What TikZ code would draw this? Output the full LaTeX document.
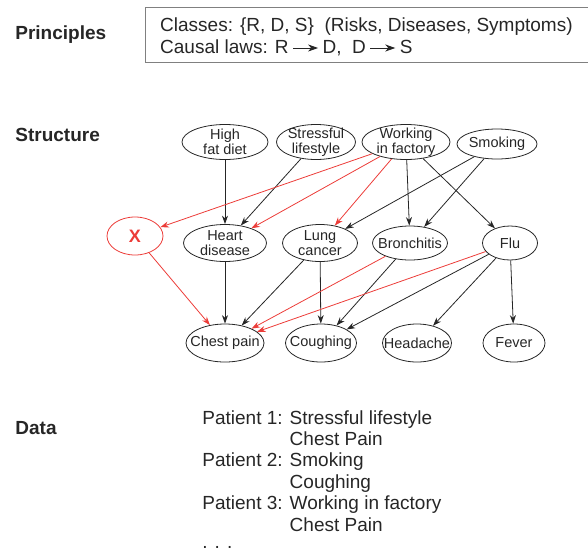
\documentclass[tikz,border=0pt]{standalone}
\usepackage{fontspec}
\setmainfont{Liberation Sans}
\usetikzlibrary{arrows.meta,shapes.geometric}
\definecolor{ink}{RGB}{38,38,38}
\definecolor{linkred}{RGB}{236,60,56}
\newcommand{\lawarrow}{\hspace{4pt}\tikz[baseline=-5pt]\draw[-{Stealth[length=10pt,width=7pt,inset=3pt]},line width=0.9pt] (0,0) -- (25pt,0);\hspace{4pt}}

\begin{document}
\begin{tikzpicture}[x=1pt,y=-1pt,line width=0.8pt,>={Stealth[length=8.5pt,width=6pt]}]
\tikzstyle{every node}=[text=ink]
\tikzstyle{var}=[ellipse, draw=ink, inner xsep=-12pt, inner ysep=-6pt, minimum height=35pt, align=center, font=\fontsize{14.5}{15}\selectfont]
\tikzstyle{head}=[anchor=base west, inner sep=0pt, font=\fontsize{19}{22}\selectfont\bfseries]
\tikzstyle{plain}=[anchor=base west, inner sep=0pt]
\useasboundingbox (0,0) rectangle (588,552);
\draw (15,39) node (principles) [head] {Principles};
\draw (15,141) node (structure) [head] {Structure};
\draw (15,434) node (data) [head] {Data};
\draw[gray] (588,7) -| (145,62) -- (588,62);
\draw (160,31.5) node (laws) [plain, font=\fontsize{19}{21.5}\selectfont]
  {\begin{tabular}[t]{@{}l@{}}Classes: \{R, D, S\}\ \ (Risks, Diseases, Symptoms)\\
   Causal laws: R\lawarrow D,\ \ D\lawarrow S\end{tabular}};
\draw (225,142) node (r1) [var, minimum width=86pt] {High\\fat diet};
\draw (316,142) node (r2) [var, minimum width=79pt] {Stressful\\lifestyle};
\draw (406,142) node (r3) [var, minimum width=88pt] {Working\\in factory};
\draw (497,144) node (r4) [var, minimum width=80pt, minimum height=30pt] {Smoking};
\draw (135,236) node (x) [var, draw=linkred, text=linkred, minimum width=56pt, minimum height=38pt, font=\fontsize{18}{18}\selectfont\bfseries] {X};
\draw (225,243) node (d1) [var, minimum width=83pt, minimum height=37pt] {Heart\\disease};
\draw (320,243) node (d2) [var, minimum width=75pt, minimum height=37pt] {Lung\\cancer};
\draw (410,243) node (d3) [var, minimum width=75pt, minimum height=34pt] {Bronchitis};
\draw (510,243) node (d4) [var, minimum width=55pt, minimum height=34pt] {Flu};
\draw (225,343) node (s1) [var, minimum width=78pt, minimum height=38pt] {Chest pain};
\draw (321,343) node (s2) [var, minimum width=71pt, minimum height=38pt] {Coughing};
\draw (417,343) node (s3) [var, minimum width=69pt, minimum height=38pt] {Headache};
\draw (514,343) node (s4) [var, minimum width=62pt, minimum height=38pt] {Fever};
\draw[->,ink] (r1) -- (d1);
\draw[->,ink] (r2) -- (d1);
\draw[->,ink] (r3) -- (d3);
\draw[->,ink] (r3) -- (d4);
\draw[->,ink] (r4) -- (d2);
\draw[->,ink] (r4) -- (d3);
\draw[->,ink] (d1) -- (s1);
\draw[->,ink] (d2) -- (s1);
\draw[->,ink] (d2) -- (s2);
\draw[->,ink] (d3) -- (s2);
\draw[->,ink] (d4) -- (s2);
\draw[->,ink] (d4) -- (s3);
\draw[->,ink] (d4) -- (s4);
\draw[->,linkred] (r3) -- (x);
\draw[->,linkred] (r3) -- (d1);
\draw[->,linkred] (r3) -- (d2);
\draw[->,linkred] (x) -- (s1);
\draw[->,linkred] (d3) -- (s1);
\draw[->,linkred] (d4) -- (s1);
\draw (202,424) node (patients) [plain, font=\fontsize{19}{21.4}\selectfont]
  {\begin{tabular}[t]{@{}l@{ }l@{}}Patient 1: & Stressful lifestyle\\
   & Chest Pain\\
   Patient 2: & Smoking\\
   & Coughing\\
   Patient 3: & Working in factory\\
   & Chest Pain\\
   \raisebox{4pt}{. . .} &\end{tabular}};
\end{tikzpicture}
\end{document}
